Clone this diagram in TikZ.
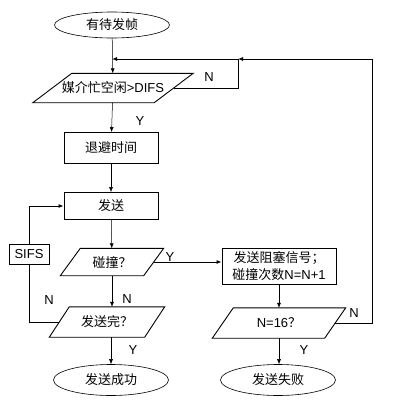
\documentclass[tikz,border=0pt]{standalone}
\usepackage{fontspec}
\setmainfont{Liberation Sans}
\newfontfamily\cjk{Noto Sans CJK SC}
\usetikzlibrary{shapes.geometric,arrows.meta}

\newcommand\slantbox[2]{\draw[link] ([xshift=#2]#1.north west) -- ([xshift=#2]#1.north east) -- ([xshift=-#2]#1.south east) -- ([xshift=-#2]#1.south west) -- cycle;}

\begin{document}
\begin{tikzpicture}[x=1pt,y=-1pt,font=\fontsize{13}{17}\selectfont,
    term/.style={draw,ellipse,line width=0.6pt,minimum width=115pt,minimum height=31pt,inner sep=0pt},
    proc/.style={draw,rectangle,line width=0.9pt,inner sep=0pt,align=center},
    decide/.style={rectangle,inner sep=0pt},
    arr/.style={-{Latex[length=5pt,width=4pt]},line width=0.5pt},
    link/.style={line width=0.9pt}]
    \useasboundingbox (0,0) rectangle (401,410);

    \node[term,minimum height=26pt] (start) at (112,25) {\cjk 有待发帧};
    \node[decide,minimum width=121pt,minimum height=29pt] (difs) at (113,88) {{\cjk 媒介忙空闲}>DIFS};
    \node[proc,minimum width=94pt,minimum height=31pt] (backoff) at (111,148) {\cjk 退避时间};
    \node[proc,minimum width=94pt,minimum height=27pt] (send) at (111,206) {\cjk 发送};
    \node[proc,minimum width=40pt,minimum height=20pt] (sifs) at (29,254) {SIFS};
    \node[decide,minimum width=83pt,minimum height=27pt] (coll) at (112,262) {\cjk 碰撞？};
    \node[proc,minimum width=114pt,minimum height=36pt] (jam) at (279,266) {{\cjk 发送阻塞信号；}\\{\cjk 碰撞次数}N=N+1};
    \node[decide,minimum width=95pt,minimum height=30pt] (fin) at (107,322) {\cjk 发送完？};
    \node[decide,minimum width=112pt,minimum height=30pt] (n16) at (279,323) {N=16{\cjk ？}};
    \node[term] (ok) at (111,380) {\cjk 发送成功};
    \node[term] (fail) at (278,380) {\cjk 发送失败};
    \slantbox{difs}{19.5pt}
    \slantbox{coll}{10pt}
    \slantbox{fin}{10pt}
    \slantbox{n16}{10.5pt}

    \coordinate (top) at (112,59);
    \coordinate (jn) at (238,59);
    \coordinate (rt) at (372,59);

    \node (n1) at (209,77) {N};
    \node (y1) at (140,121) {Y};
    \node (y2) at (170,257) {Y};
    \node (n2) at (127,299) {N};
    \node (n3) at (49,300) {N};
    \node (y3) at (133,350) {Y};
    \node (n4) at (354,313) {N};
    \node (y4) at (304,350) {Y};

    \draw[arr] (start) -- (difs);
    \draw[arr] (difs) -- (backoff);
    \draw[arr] (backoff) -- (send);
    \draw[arr] (send) -- (coll);
    \draw[arr,link] (coll.east) -- (coll.east -| jam.west);
    \draw[arr] (coll.south) -- (coll.south |- fin.north);
    \draw[arr] (ok.north |- fin.south) -- (ok.north);
    \draw[arr] (jam) -- (jam.south |- n16.north);
    \draw[arr] (n16.south) -- (n16.south |- fail.north);
    \draw[link] (fin.west) -| (sifs.south);
    \draw[arr,link] (sifs.north) |- (send.west);
    \draw[link] (difs.east) -| (jn);
    \draw[arr,link] (n16.east) -| (rt) -- (jn);
    \draw[arr,link] (jn) -- (top);
\end{tikzpicture}
\end{document}
